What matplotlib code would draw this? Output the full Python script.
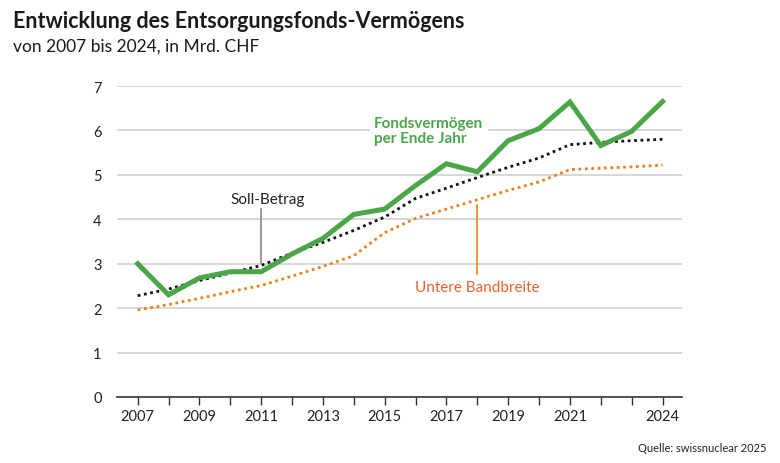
import matplotlib
matplotlib.use("Agg")
import matplotlib.pyplot as plt

years = list(range(2007, 2025))
fonds = [3.0, 2.30, 2.68, 2.82, 2.82, 3.22, 3.57, 4.11, 4.23, 4.76, 5.25, 5.07, 5.77, 6.04, 6.64, 5.66, 5.98, 6.65]
soll = [2.28, 2.43, 2.62, 2.79, 2.96, 3.24, 3.48, 3.75, 4.05, 4.47, 4.70, 4.94, 5.17, 5.38, 5.68, 5.73, 5.77, 5.80]
untere = [1.96, 2.08, 2.22, 2.37, 2.51, 2.72, 2.94, 3.18, 3.70, 4.02, 4.23, 4.44, 4.65, 4.84, 5.12, 5.15, 5.18, 5.22]
xtick_labels = [2007, 2009, 2011, 2013, 2015, 2017, 2019, 2021, 2024]
yticks = [0, 1, 2, 3, 4, 5, 6, 7]

title = "Entwicklung des Entsorgungsfonds-Vermögens"
subtitle = "von 2007 bis 2024, in Mrd. CHF"
source = "Quelle: swissnuclear 2025"

plt.rcParams['font.family'] = ['Lato', 'DejaVu Sans']

GREEN = "#4ba64a"
ORANGE = "#e8821e"
ORANGE_TXT = "#e9642a"
GRID = "#d4d4d4"
TXT = "#222222"

fig = plt.figure(figsize=(7.8, 4.64), dpi=100)
W, H = 780, 464
ax = fig.add_axes([117 / W, (H - 398) / H, (682 - 117) / W, (398 - 87) / H])

ax.set_xlim(2006.33, 2024.63)
ax.set_ylim(0, 7)

for y in yticks[1:]:
    ax.axhline(y, color=GRID, lw=1.3, zorder=0)

ax.plot(years, untere, color=ORANGE, lw=2.0, linestyle=(0, (1, 1.3)), zorder=2)
ax.plot(years, soll, color="#111111", lw=2.0, linestyle=(0, (1, 1.3)), zorder=3)
ax.plot(years, fonds, color=GREEN, lw=3.6, solid_joinstyle='miter', zorder=4)

for s in ['top', 'right', 'left']:
    ax.spines[s].set_visible(False)
ax.spines['bottom'].set_color("#333333")
ax.spines['bottom'].set_linewidth(1.2)

ax.set_xticks(years, minor=True)
ax.set_xticks(xtick_labels)
ax.set_xticklabels([str(v) for v in xtick_labels])
ax.tick_params(axis='x', which='both', length=6, width=1, color="#333333",
               labelsize=10.5, labelcolor=TXT, pad=3)
ax.set_yticks(yticks)
ax.set_yticklabels([str(v) for v in yticks])
ax.tick_params(axis='y', length=0, labelsize=10.5, labelcolor=TXT, pad=11)

# Annotations
ax.text(2014.66, 6.0, "Fondsvermögen\nper Ende Jahr", color=GREEN, fontsize=11,
        fontweight='bold', ha='left', va='center', linespacing=1.05,
        bbox=dict(boxstyle='square,pad=0.3', fc='white', ec='none'), zorder=1)

ax.text(2011.2, 4.46, "Soll-Betrag", color=TXT, fontsize=11, ha='center', va='center', zorder=5)
ax.plot([2011, 2011], [4.23, 3.02], color="#888888", lw=1.2, zorder=5)

ax.text(2018.0, 2.48, "Untere Bandbreite", color=ORANGE_TXT, fontsize=11, ha='center',
        va='center', zorder=5)
ax.plot([2018, 2018], [4.32, 2.77], color=ORANGE, lw=1.2, zorder=5)

fig.text(13 / W, 1 - 22 / H, title, fontsize=15.5, fontweight='bold', color="#1a1a1a",
         ha='left', va='center')
fig.text(13 / W, 1 - 47 / H, subtitle, fontsize=12.5, color="#1a1a1a", ha='left', va='center')
fig.text(766 / W, 1 - 449 / H, source, fontsize=8, color="#222222", ha='right', va='center')

fig.savefig("out.png", dpi=100)
